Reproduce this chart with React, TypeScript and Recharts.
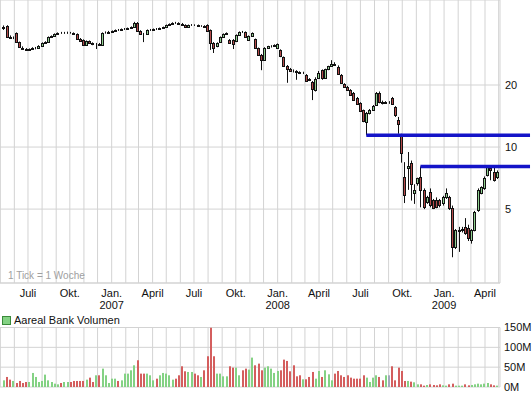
import React from "react";
import { ComposedChart, Bar, XAxis, YAxis, CartesianGrid, ReferenceLine } from "recharts";

const DAY = 86400000;
const ORIGIN = Date.UTC(2006, 6, 1); // day 0 of the time axis
const FIRST_WEEK = Date.UTC(2006, 4, 8);

// weekly OHLC, EUR
const opens = [
  37.8, 38.7, 34.2, 33.8, 35.6, 32.3, 30.4, 29.9, 29.6, 29.9,
  30.2, 30.3, 30.9, 32.0, 32.3, 34.2, 34.6, 35.4, 35.8, 35.7,
  35.8, 35.9, 35.8, 35.4, 33.4, 33.1, 31.3, 32.7, 32.0, 31.6,
  31.6, 31.3, 35.8, 35.8, 36.2, 36.6, 37.0, 37.0, 37.4, 37.4,
  37.8, 38.2, 40.0, 36.6, 35.5, 35.4, 37.0, 37.0, 37.4, 37.4,
  37.8, 38.2, 39.1, 39.5, 40.0, 40.0, 39.5, 39.1, 38.2, 39.1,
  39.1, 39.1, 38.7, 38.7, 39.1, 37.0, 32.0, 30.9, 32.3, 34.2,
  35.4, 33.1, 33.1, 32.7, 35.0, 36.2, 36.2, 33.1, 34.6, 33.4,
  30.2, 28.0, 26.4, 30.2, 30.9, 30.9, 30.2, 29.6, 27.3, 24.7,
  23.9, 23.5, 23.4, 23.1, 22.8, 22.4, 21.4, 20.7, 18.9, 21.6,
  23.6, 21.6, 23.9, 24.7, 25.3, 24.5, 22.4, 20.2, 19.6, 18.9,
  18.3, 17.3, 16.4, 15.1, 13.2, 14.6, 15.1, 16.0, 18.3, 16.5,
  16.4, 16.4, 17.3, 15.6, 13.6, 11.4, 7.15, 7.9, 8.36, 6.0,
  6.7, 7.15, 6.18, 5.41, 6.05, 5.53, 5.53, 5.53, 5.35, 5.72,
  5.72, 5.06, 3.27, 3.9, 3.96, 4.09, 4.05, 3.54, 3.96, 4.94,
  5.98, 6.32, 7.31, 7.91, 7.56, 7.15,
];
const highs = [
  38.9, 39.0, 34.8, 34.4, 36.0, 32.5, 30.8, 30.2, 30.1, 30.5,
  30.6, 31.2, 32.2, 32.6, 34.4, 34.8, 35.6, 36.0, 36.2, 36.2,
  36.3, 36.2, 36.0, 35.6, 33.8, 33.3, 32.9, 32.9, 32.2, 32.0,
  32.0, 36.0, 36.4, 36.6, 36.8, 37.2, 37.4, 37.6, 37.8, 38.0,
  38.5, 40.5, 40.4, 36.9, 35.8, 37.2, 37.4, 37.6, 37.8, 38.0,
  38.4, 39.3, 39.8, 40.3, 40.5, 40.3, 40.0, 39.4, 39.3, 39.5,
  39.4, 39.3, 39.0, 39.0, 39.4, 37.2, 32.3, 32.2, 34.4, 35.6,
  36.0, 33.4, 33.4, 35.2, 36.4, 36.6, 36.4, 34.8, 36.0, 33.6,
  30.4, 28.3, 30.5, 31.0, 31.2, 31.5, 31.8, 29.8, 27.5, 25.0,
  24.2, 23.8, 23.6, 23.3, 23.2, 22.6, 21.6, 20.9, 21.8, 23.4,
  23.8, 24.0, 24.8, 26.4, 25.8, 24.9, 22.6, 20.4, 19.8, 19.1,
  18.5, 17.5, 16.5, 15.2, 14.8, 15.3, 16.0, 18.5, 18.6, 16.8,
  16.7, 16.7, 17.5, 15.8, 14.0, 11.6, 8.45, 9.46, 8.6, 6.6,
  7.1, 8.05, 6.3, 5.8, 6.3, 5.6, 5.7, 5.6, 5.8, 6.3,
  5.8, 5.2, 4.0, 4.1, 4.1, 4.52, 4.2, 4.0, 4.9, 6.3,
  6.45, 7.2, 8.15, 8.18, 8.1, 7.7,
];
const lows = [
  37.0, 33.8, 33.6, 33.4, 32.0, 30.3, 29.7, 29.3, 29.3, 29.7,
  29.8, 30.0, 30.6, 31.7, 32.1, 33.9, 34.4, 35.2, 35.4, 35.4,
  35.4, 35.5, 35.0, 33.2, 32.5, 31.1, 31.0, 31.8, 31.2, 29.9,
  31.0, 31.0, 35.5, 35.6, 35.9, 36.3, 36.6, 36.8, 37.0, 37.2,
  37.5, 38.0, 36.4, 35.2, 32.3, 35.2, 36.6, 36.8, 37.0, 37.1,
  37.5, 38.0, 38.8, 39.2, 39.6, 39.3, 38.8, 37.8, 38.0, 38.7,
  38.7, 38.4, 38.3, 37.9, 36.4, 29.6, 28.6, 30.5, 32.0, 34.0,
  35.2, 31.8, 29.9, 32.3, 34.8, 35.8, 34.0, 32.8, 34.4, 30.0,
  27.8, 23.6, 26.2, 30.0, 30.4, 30.6, 30.0, 27.3, 24.5, 20.5,
  23.2, 23.0, 21.2, 22.6, 22.6, 20.7, 20.9, 16.9, 18.6, 21.4,
  21.2, 21.4, 23.6, 24.5, 24.9, 22.6, 20.4, 19.4, 18.7, 17.7,
  16.8, 16.1, 14.8, 13.2, 11.4, 14.4, 15.0, 15.9, 16.3, 16.1,
  16.2, 16.2, 16.0, 14.0, 11.6, 8.4, 5.35, 6.2, 5.5, 5.3,
  6.5, 5.1, 5.0, 5.3, 5.1, 5.0, 5.05, 5.1, 5.2, 5.6,
  4.95, 2.92, 3.2, 3.1, 3.85, 3.75, 3.5, 3.4, 3.9, 4.85,
  5.9, 6.2, 7.2, 6.9, 6.8, 7.0,
];
const closes = [
  38.4, 34.2, 33.8, 33.9, 32.3, 30.6, 29.9, 29.6, 29.9, 30.2,
  30.3, 30.9, 32.0, 32.3, 34.2, 34.6, 35.4, 35.8, 35.7, 35.8,
  35.9, 35.8, 35.4, 33.4, 32.7, 31.3, 32.7, 32.0, 31.6, 31.7,
  31.3, 35.8, 35.9, 36.2, 36.6, 37.0, 36.9, 37.4, 37.5, 37.8,
  38.2, 40.0, 36.6, 35.4, 35.3, 37.0, 37.1, 37.4, 37.3, 37.8,
  38.2, 39.1, 39.5, 40.0, 39.9, 39.5, 39.1, 38.2, 39.1, 39.2,
  39.0, 38.7, 38.8, 38.2, 36.6, 32.0, 30.2, 32.0, 34.2, 35.4,
  35.8, 32.0, 31.6, 35.0, 36.2, 36.1, 34.2, 34.6, 35.8, 30.2,
  28.0, 26.4, 30.2, 30.9, 31.0, 31.3, 31.6, 27.6, 24.7, 23.9,
  23.4, 23.3, 23.1, 22.9, 22.9, 20.9, 21.1, 19.1, 21.4, 22.9,
  21.6, 23.9, 24.7, 25.3, 25.0, 22.6, 20.5, 19.6, 18.9, 17.9,
  16.9, 16.2, 15.0, 13.4, 14.6, 15.1, 15.8, 18.3, 16.5, 16.4,
  16.5, 16.4, 16.2, 14.3, 12.9, 9.35, 5.85, 8.05, 6.62, 6.2,
  7.07, 6.18, 5.1, 5.72, 5.23, 5.06, 5.11, 5.23, 5.72, 5.98,
  5.06, 3.27, 3.96, 3.96, 4.0, 3.82, 3.62, 3.96, 4.84, 6.18,
  6.39, 7.07, 8.0, 7.73, 6.91, 7.56,
];
// weekly volume, millions
const volumes = [
  16.8, 25.3, 18.5, 15.2, 10.1, 15.2, 10.1, 12.6, 12.6, 35.4,
  25.3, 12.6, 15.2, 31.2, 16.8, 12.6, 8.4, 6.7, 10.1, 12.6,
  12.6, 12.6, 15.2, 15.2, 15.2, 15.2, 18.5, 23.6, 12.6, 29.5,
  29.5, 46.3, 29.5, 10.1, 21.0, 21.0, 15.2, 16.8, 33.7, 33.7,
  42.1, 54.7, 67.4, 33.7, 33.7, 33.7, 29.5, 16.8, 21.0, 29.5,
  35.4, 33.7, 29.5, 18.5, 21.0, 29.5, 52.2, 39.6, 37.9, 37.9,
  33.7, 29.5, 25.3, 42.1, 77.5, 150, 77.5, 33.7, 33.7, 26.9,
  26.9, 52.2, 48.8, 48.8, 29.5, 42.1, 46.3, 43.8, 74.1, 54.7,
  58.9, 42.1, 48.8, 52.2, 46.3, 35.4, 40.4, 42.1, 69.0, 65.7,
  39.6, 54.7, 26.9, 29.5, 19.4, 19.4, 25.3, 37.9, 21.0, 40.4,
  25.3, 42.1, 32.0, 16.8, 33.7, 40.4, 29.5, 25.3, 29.5, 23.6,
  21.0, 21.0, 21.0, 29.5, 23.6, 12.6, 23.6, 29.5, 25.3, 16.8,
  29.5, 29.5, 52.2, 16.8, 48.8, 40.4, 15.2, 15.2, 13.5, 11.8,
  6.7, 6.7, 3.4, 5.1, 6.7, 5.1, 4.2, 6.7, 4.2, 3.4,
  6.7, 8.4, 3.4, 3.4, 3.4, 6.7, 4.2, 5.1, 6.7, 8.4,
  6.7, 8.4, 10.1, 6.7, 4.2, 3.4,
];

const priceTicks = [5, 10, 20];
const volumeTicks = [0, 50, 100, 150];
const monthLabels = ["Jan.", "", "", "April", "", "", "Juli", "", "", "Okt.", "", ""];

// hand-drawn horizontal lines (start week, end, level)
const blueLines = [
  { from: Date.UTC(2008, 6, 14), to: Date.UTC(2009, 6, 9), level: 11.4 },
  { from: Date.UTC(2008, 10, 10), to: Date.UTC(2009, 6, 9), level: 8.05 },
];

const toDay = (ms: number) => (ms - ORIGIN) / DAY;
const X_MIN = -61.575;
const X_MAX = X_MIN + 1099.56;

const monthTicks: number[] = [];
for (let k = 0; k <= 36; k++) monthTicks.push(toDay(Date.UTC(2006, 4 + k, 1)));

const rows = closes.map((close, i) => ({
  t: toDay(FIRST_WEEK) + 7 * i,
  open: opens[i],
  high: highs[i],
  low: lows[i],
  close,
  range: [lows[i], highs[i]],
  vol: volumes[i],
}));

const GRID = "#d3d3d3";
const CANDLE_UP = "#8fd08f";
const CANDLE_DOWN = "#b44a4a";
const VOL_UP = "#84d284";
const VOL_DOWN = "#d45e5e";
const VOL_FLAT = "#a3a9bd";

function MonthTick(props: any) {
  const { x, y, payload } = props;
  const d = new Date(ORIGIN + Math.round(payload.value) * DAY);
  const m = d.getUTCMonth();
  const label = monthLabels[m];
  if (!label) return <g />;
  return (
    <g>
      <text x={x} y={y + 13.5} textAnchor="middle" fontSize={11} fill="#111">{label}</text>
      {m === 0 && (
        <text x={x} y={y + 25.5} textAnchor="middle" fontSize={11} fill="#111">{d.getUTCFullYear()}</text>
      )}
    </g>
  );
}

function Candle(props: any) {
  const { x, y, width, height, payload } = props;
  if (x == null || y == null) return <g />;
  const { open, close, high, low } = payload;
  const cx = Math.round(x + width / 2) + 0.5;
  const lh = Math.log(high);
  const ll = Math.log(low);
  const h = Math.abs(height);
  const py = (p: number) => y + ((lh - Math.log(p)) / (lh - ll)) * h;
  const top = Math.round(py(Math.max(open, close))) + 0.5;
  const bot = Math.round(py(Math.min(open, close))) + 0.5;
  const fill = close > open ? CANDLE_UP : close < open ? CANDLE_DOWN : "#888";
  return (
    <g>
      <line x1={cx} x2={cx} y1={y} y2={y + h} stroke="#111" strokeWidth={1} />
      <rect x={cx - 1} y={top} width={2} height={Math.max(0, bot - top)} fill={fill} stroke="#111" strokeWidth={1} />
    </g>
  );
}

function VolumeBar(props: any) {
  const { x, y, width, height, payload } = props;
  if (x == null || !height) return <g />;
  const fill = payload.close > payload.open ? VOL_UP : payload.close < payload.open ? VOL_DOWN : VOL_FLAT;
  return <rect x={Math.round(x + width / 2) - 1} y={y} width={2} height={height} fill={fill} />;
}

export default function App() {
  return (
    <div
      style={{
        position: "absolute",
        left: 0,
        top: 0,
        width: 532,
        height: 393,
        background: "#fff",
        overflow: "hidden",
        fontFamily: "'Liberation Sans', Arial, sans-serif",
      }}
    >
      <div style={{ position: "absolute", left: 0, top: 0 }}>
        <ComposedChart width={532} height={313} data={rows} margin={{ top: 0, right: 0, bottom: 0, left: 0 }}>
          <CartesianGrid stroke={GRID} />
          <XAxis
            dataKey="t"
            type="number"
            domain={[X_MIN, X_MAX]}
            allowDataOverflow
            ticks={monthTicks}
            interval={0}
            tick={(p: any) => <MonthTick {...p} />}
            tickLine={false}
            tickSize={0}
            tickMargin={0}
            axisLine={{ stroke: GRID }}
            height={30}
          />
          <YAxis
            orientation="right"
            scale="log"
            domain={[2.19, 51.7]}
            allowDataOverflow
            ticks={priceTicks}
            interval={0}
            width={32}
            tickLine={false}
            axisLine={false}
            tickSize={3}
            tickMargin={2}
            tick={{ fill: "#111", fontSize: 11 }}
          />
          <Bar dataKey="range" barSize={3} shape={(p: any) => <Candle {...p} />} isAnimationActive={false} />
          {blueLines.map((l, i) => (
            <ReferenceLine
              key={i}
              segment={[
                { x: toDay(l.from), y: l.level },
                { x: toDay(l.to), y: l.level },
              ]}
              stroke="#1414c8"
              strokeWidth={3.5}
              ifOverflow="visible"
            />
          ))}
        </ComposedChart>
      </div>

      <div style={{ position: "absolute", left: 8, top: 271, fontSize: 10, lineHeight: "10px", color: "#a0a0a0" }}>
        1 Tick = 1 Woche
      </div>

      <div style={{ position: "absolute", left: 2, top: 315, display: "flex", alignItems: "center", fontSize: 11, lineHeight: "11px", color: "#111" }}>
        <div style={{ width: 7, height: 7, background: "#84d284", border: "1px solid #3a8a3a", marginRight: 3 }} />
        <span>Aareal Bank Volumen</span>
      </div>

      <div style={{ position: "absolute", left: 0, top: 310 }}>
        <ComposedChart width={532} height={83} data={rows} margin={{ top: 17.5, right: 0, bottom: 6, left: 0 }}>
          <CartesianGrid stroke={GRID} />
          <XAxis dataKey="t" type="number" domain={[X_MIN, X_MAX]} allowDataOverflow ticks={monthTicks} interval={0} hide />
          <YAxis
            orientation="right"
            domain={[0, 150]}
            allowDataOverflow
            ticks={volumeTicks}
            interval={0}
            tickFormatter={(v: number) => `${v}M`}
            width={32}
            tickLine={false}
            axisLine={false}
            tickSize={2}
            tickMargin={2}
            tick={{ fill: "#111", fontSize: 11 }}
          />
          <Bar dataKey="vol" barSize={2} shape={(p: any) => <VolumeBar {...p} />} isAnimationActive={false} />
        </ComposedChart>
      </div>
    </div>
  );
}
